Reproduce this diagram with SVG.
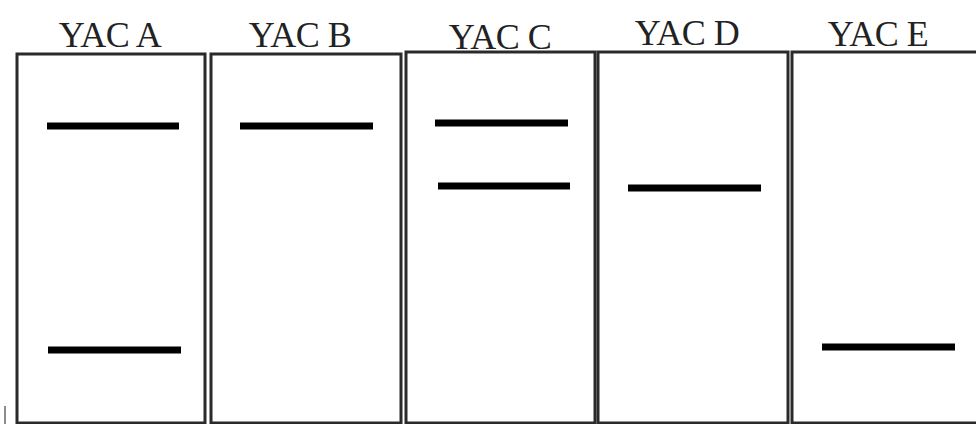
<svg xmlns="http://www.w3.org/2000/svg" width="976" height="424" viewBox="0 0 976 424">
<style>
.lane{fill:#fff;stroke:#2a2a2a;stroke-width:3}
.band{stroke:#000;stroke-width:7;stroke-linecap:butt}
.lbl{font-family:"Liberation Serif","Times New Roman",serif;font-size:36px;fill:#222;text-anchor:middle;letter-spacing:-0.5px}
</style>
<rect width="976" height="424" fill="#fff"/>
<g id="yac-a">
<rect class="lane" x="17" y="54" width="188" height="369"/>
<text class="lbl" x="110" y="47">YAC A</text>
<line class="band" x1="47" y1="126" x2="179" y2="126"/>
<line class="band" x1="48" y1="350" x2="181" y2="350"/>
</g>
<g id="yac-b">
<rect class="lane" x="211" y="54" width="190" height="369"/>
<text class="lbl" x="300" y="47">YAC B</text>
<line class="band" x1="240" y1="126" x2="373" y2="126"/>
</g>
<g id="yac-c">
<rect class="lane" x="406" y="52" width="189" height="371"/>
<text class="lbl" x="500" y="49">YAC C</text>
<line class="band" x1="435" y1="123" x2="568" y2="123"/>
<line class="band" x1="438" y1="186" x2="570" y2="186"/>
</g>
<g id="yac-d">
<rect class="lane" x="598" y="52" width="190" height="371"/>
<text class="lbl" x="687" y="45">YAC D</text>
<line class="band" x1="628" y1="188" x2="761" y2="188"/>
</g>
<g id="yac-e">
<rect class="lane" x="792" y="52" width="190" height="371"/>
<text class="lbl" x="878" y="46">YAC E</text>
<line class="band" x1="822" y1="347" x2="955" y2="347"/>
</g>
<g id="connectors">
<line x1="5" y1="406" x2="5" y2="424" stroke="#666" stroke-width="1.5"/>
</g>
</svg>
